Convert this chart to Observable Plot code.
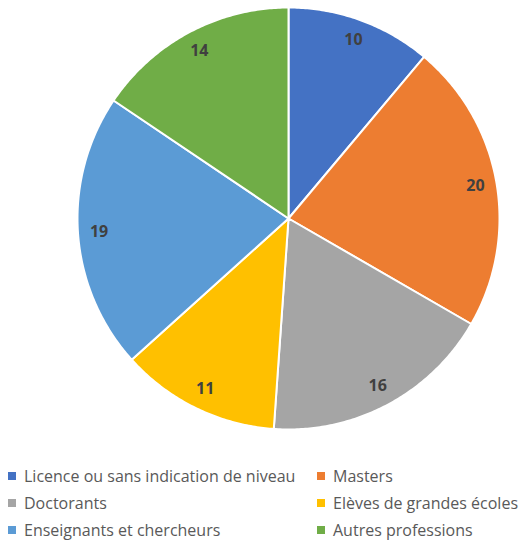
<!DOCTYPE html>
<html>
<head>
<meta charset="utf-8">
<script src="https://cdn.jsdelivr.net/npm/d3@7"></script>
<script src="https://cdn.jsdelivr.net/npm/@observablehq/plot@0.6"></script>
<style>
  html, body { margin: 0; padding: 0; background: #fff; }
  #wrap { position: relative; width: 526px; height: 542px; overflow: hidden; }
  #chart { position: absolute; left: 0; top: 0; }
  #legend { position: absolute; left: 0; top: 465px; width: 526px; font-family: "Open Sans", sans-serif; font-size: 16px; color: #595959; }
  .item { position: absolute; display: flex; align-items: center; white-space: nowrap; height: 22px; }
  .sw { width: 8px; height: 8px; margin-right: 8px; }
</style>
</head>
<body>
<div id="wrap">
  <div id="chart"></div>
  <div id="legend"></div>
</div>
<script>
const categories = ["Licence ou sans indication de niveau", "Masters", "Doctorants", "Elèves de grandes écoles", "Enseignants et chercheurs", "Autres professions"];
const values = [10, 20, 16, 11, 19, 14];
const colors = ["#4472C4", "#ED7D31", "#A5A5A5", "#FFC000", "#5B9BD5", "#70AD47"];

const arcs = d3.pie().sort(null).value(d => d)(values);

// polygon points for each slice (unit circle), angles clockwise from top
const pts = [];
arcs.forEach((a, i) => {
  const n = Math.max(2, Math.ceil((a.endAngle - a.startAngle) / 0.01));
  pts.push({cat: categories[i], x: 0, y: 0});
  for (let k = 0; k <= n; k++) {
    const t = a.startAngle + (a.endAngle - a.startAngle) * k / n;
    pts.push({cat: categories[i], x: Math.sin(t), y: Math.cos(t)});
  }
  pts.push({cat: categories[i], x: 0, y: 0});
});
const labels = arcs.map((a, i) => {
  const m = (a.startAngle + a.endAngle) / 2;
  return {v: values[i], x: 0.9 * Math.sin(m), y: 0.9 * Math.cos(m)};
});

const cx = 288, cy = 218, R = 211;
const chart = Plot.plot({
  width: 526, height: 445,
  margin: 0,
  x: {domain: [-1, 1], range: [cx - R, cx + R], axis: null},
  y: {domain: [-1, 1], range: [cy + R, cy - R], axis: null},
  color: {domain: categories, range: colors},
  marks: [
    Plot.line(pts, {x: "x", y: "y", z: "cat", fill: "cat", stroke: "white", strokeWidth: 2, curve: "linear"}),
    Plot.text(labels, {x: "x", y: "y", text: d => String(d.v), fill: "#404040", fontSize: 16, fontWeight: "bold", fontFamily: "Open Sans, sans-serif"})
  ]
});
document.getElementById("chart").appendChild(chart);

const legend = document.getElementById("legend");
const pos = [[8, 0], [317, 0], [8, 27], [317, 27], [8, 54], [317, 54]];
categories.forEach((c, i) => {
  const el = document.createElement("div");
  el.className = "item";
  el.style.left = pos[i][0] + "px";
  el.style.top = pos[i][1] + "px";
  el.innerHTML = `<span class="sw" style="background:${colors[i]}"></span><span>${c}</span>`;
  legend.appendChild(el);
});
</script>
</body>
</html>
